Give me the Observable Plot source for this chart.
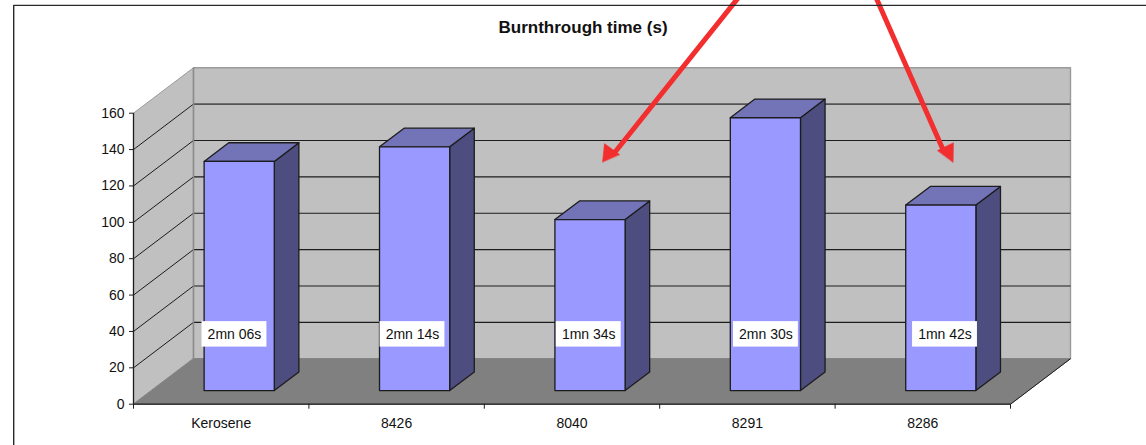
<!DOCTYPE html>
<html><head><meta charset="utf-8">
<script src="https://cdn.jsdelivr.net/npm/d3@7"></script>
<script src="https://cdn.jsdelivr.net/npm/@observablehq/plot@0.6"></script>
<style>html,body{margin:0;padding:0;background:#fff;overflow:hidden}svg{display:block}</style>
</head><body><div id="chart"></div>
<script>
const categories = ["Kerosene","8426","8040","8291","8286"];
const burnSeconds = [126,134,94,150,102];
const barLabels = ["2mn 06s","2mn 14s","1mn 34s","2mn 30s","1mn 42s"];
const labelCenters = [0.473,1.488,2.493,3.503,4.524];
const yTicks = [0,20,40,60,80,100,120,140,160];
const arrowShafts = [[[3.444,223],[2.74,138]],[[4.236,223],[4.62,139]]];
const arrowHeads = [[[2.674,133.2],[2.685,143.3],[2.771,137.3]],[[4.673,133],[4.675,143.8],[4.584,139.5]]];

const depthX = 0.342, depthY = 25; // oblique projection of the depth axis, in scale units
const barFront = 0.3, barBack = 0.71, barHalf = 0.2, labelValue = 30.9;
const P = (x,v,d) => ({x:x+d*depthX, y:v+d*depthY});
const poly = (pts,id) => pts.map(([x,v,d]) => ({...P(x,v,d),id}));
const face = (pts,id,fill,stroke,sw=1) => Plot.line(poly(pts,id),{x:"x",y:"y",z:"id",curve:"linear-closed",fill,stroke,strokeWidth:sw});

const frameTop = 219.3, frameLeft = -0.683, frameBottom = -25;
const ink = "#1c1c1c";

const marks = [
  face([[0,0,0],[0,160,0],[0,160,1],[0,0,1]],"side","#c0c0c0","#9a9a9a"),
  face([[0,0,1],[0,160,1],[5,160,1],[5,0,1]],"back","#c0c0c0","#9a9a9a",1.4),
  face([[0,0,0],[5,0,0],[5,0,1],[0,0,1]],"floor","#808080","#808080"),
  Plot.link(yTicks.filter(t=>t>0&&t<160),{x1:()=>P(0,0,0).x,x2:()=>P(0,0,1).x,y1:t=>t,y2:t=>P(0,t,1).y,stroke:ink,strokeWidth:1}),
  Plot.link(yTicks.filter(t=>t>0&&t<160),{x1:()=>P(0,0,1).x,x2:()=>P(5,0,1).x,y1:t=>P(0,t,1).y,y2:t=>P(0,t,1).y,stroke:t=>t==140?"#555":ink,strokeWidth:t=>t==140?1.6:1.1}),
  Plot.link([0],{x1:()=>P(0,0,1).x,x2:()=>P(0,0,1).x,y1:()=>P(0,0,1).y,y2:()=>P(0,160,1).y,stroke:"#8c8c8c",strokeWidth:1.4}),
  Plot.link([0],{x1:()=>P(5,0,0).x,x2:()=>P(5,0,1).x,y1:()=>P(5,0,0).y,y2:()=>P(5,0,1).y,stroke:ink}),
];
burnSeconds.forEach((v,i)=>{
  const a=i+0.5-barHalf, b=i+0.5+barHalf, f=barFront, k=barBack, id="b"+i;
  marks.push(
    face([[b,0,f],[b,0,k],[b,v,k],[b,v,f]],id+"s","#4d4d80",ink,1.3),
    face([[a,v,f],[b,v,f],[b,v,k],[a,v,k]],id+"t","#7373b8",ink,1.3),
    face([[a,0,f],[b,0,f],[b,v,f],[a,v,f]],id+"f","#9999ff",ink,1.3)
  );
});
marks.push(
  Plot.rect(barLabels,{x1:(d,i)=>labelCenters[i]+barFront*depthX-0.185,x2:(d,i)=>labelCenters[i]+barFront*depthX+0.185,
    y1:()=>labelValue-7+barFront*depthY,y2:()=>labelValue+7+barFront*depthY,fill:"white"}),
  Plot.text(barLabels,{x:(d,i)=>labelCenters[i]+barFront*depthX,y:()=>labelValue+barFront*depthY,text:d=>d,fontSize:14,fill:"#111",fontFamily:"Liberation Sans"}),
  Plot.ruleY([0],{x1:0,x2:5,stroke:ink,strokeWidth:1.3}),
  Plot.ruleX([0],{y1:0,y2:160,stroke:ink,strokeWidth:1.3}),
  Plot.axisY({ticks:yTicks,tickSize:4,tickPadding:5,label:null,fontSize:14,fontFamily:"Liberation Sans",color:"#111",stroke:ink}),
  Plot.axisX({ticks:[0,1,2,3,4,5],tickSize:5,tickFormat:()=>"",label:null,stroke:ink}),
  Plot.text(categories,{x:(d,i)=>i+0.5,y:()=>0,dy:19,text:d=>d,fontSize:14,fill:"#111",fontFamily:"Liberation Sans"}),
  Plot.text(["Burnthrough time (s)"],{x:()=>2.563,y:()=>207,text:d=>d,fontSize:17,fontWeight:"bold",fill:"#111",fontFamily:"Liberation Sans"}),
  ...arrowShafts.map(s=>Plot.line(s,{x:"0",y:"1",stroke:"#f22e2e",strokeWidth:5})),
  ...arrowHeads.map((h,i)=>Plot.line(h,{x:"0",y:"1",curve:"linear-closed",fill:"#f22e2e",stroke:"#f22e2e",strokeWidth:.5})),
  Plot.line([[6.2,frameTop],[frameLeft,frameTop],[frameLeft,frameBottom]],{x:"0",y:"1",stroke:"#2a2a2a",strokeWidth:1.4})
);

const chart = Plot.plot({
  width:1146,height:445,
  marginLeft:133,marginRight:136,marginTop:112.7,marginBottom:41.3,
  x:{type:"linear",domain:[0,5]},y:{type:"linear",domain:[0,160]},
  style:{background:"#fff"},
  marks
});
document.getElementById("chart").append(chart);
</script></body></html>
